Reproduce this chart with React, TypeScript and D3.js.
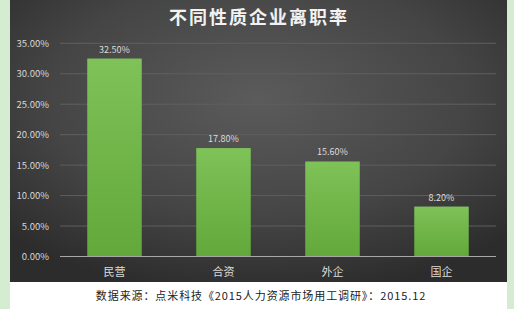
import React from "react";
import * as d3 from "d3";

const categories = ["民营", "合资", "外企", "国企"];
const values = [32.5, 17.8, 15.6, 8.2];
const yTicks = [0, 5, 10, 15, 20, 25, 30, 35];
const title = "不同性质企业离职率";
const source = "数据来源：点米科技《2015人力资源市场用工调研》：2015.12";

export default function App() {
  const W = 514, H = 309;
  const x = d3.scaleBand<string>().domain(categories).range([60, 496]).paddingInner(0.5).paddingOuter(0.25);
  const y = d3.scaleLinear().domain([0, 35]).range([256.5, 43.3]);
  const font = "'Noto Sans CJK SC', 'Noto Sans', sans-serif";
  return (
    <svg width={W} height={H} style={{ position: "absolute", left: 0, top: 0 }}>
      <defs>
        <radialGradient id="bg" cx="50%" cy="35%" r="70%">
          <stop offset="0%" stopColor="#5b5b5b" />
          <stop offset="60%" stopColor="#454545" />
          <stop offset="100%" stopColor="#2c2c2c" />
        </radialGradient>
        <linearGradient id="bar" x1="0" y1="0" x2="0" y2="1">
          <stop offset="0%" stopColor="#7fc258" />
          <stop offset="100%" stopColor="#62a83a" />
        </linearGradient>
      </defs>
      <rect x={0} y={0} width={W} height={H} fill="#d5ecd3" />
      <rect x={10} y={0} width={497} height={H} fill="#ffffff" />
      <rect x={10} y={0} width={497} height={282} fill="url(#bg)" />
      <text x={259} y={24} textAnchor="middle" fill="#f2f2f2" fontSize={18} fontWeight="bold" fontFamily={font} letterSpacing={2}>{title}</text>
      {yTicks.map((t) => (
        <g key={t}>
          {t > 0 && <line x1={60} x2={496} y1={y(t)} y2={y(t)} stroke="#5f5f5f" strokeWidth={1} />}
          <text x={49} y={y(t) + 3.5} textAnchor="end" fill="#d8d8d8" fontSize={9.5} fontFamily={font}>{t.toFixed(2)}%</text>
        </g>
      ))}
      {categories.map((c, i) => (
        <g key={c}>
          <rect x={x(c)} y={y(values[i])} width={x.bandwidth()} height={y(0) - y(values[i])} fill="url(#bar)" />
          <text x={(x(c) as number) + x.bandwidth() / 2} y={y(values[i]) - 6} textAnchor="middle" fill="#dcdcdc" fontSize={9} fontFamily={font}>{values[i].toFixed(2)}%</text>
          <text x={(x(c) as number) + x.bandwidth() / 2} y={276} textAnchor="middle" fill="#dcdcdc" fontSize={11} fontFamily={font}>{c}</text>
        </g>
      ))}
      <line x1={60} x2={496} y1={y(0)} y2={y(0)} stroke="#a8a8a8" strokeWidth={1} />
      <text x={261} y={300} textAnchor="middle" fill="#222" fontSize={11} fontFamily={font} letterSpacing={0.9}>{source}</text>
    </svg>
  );
}
